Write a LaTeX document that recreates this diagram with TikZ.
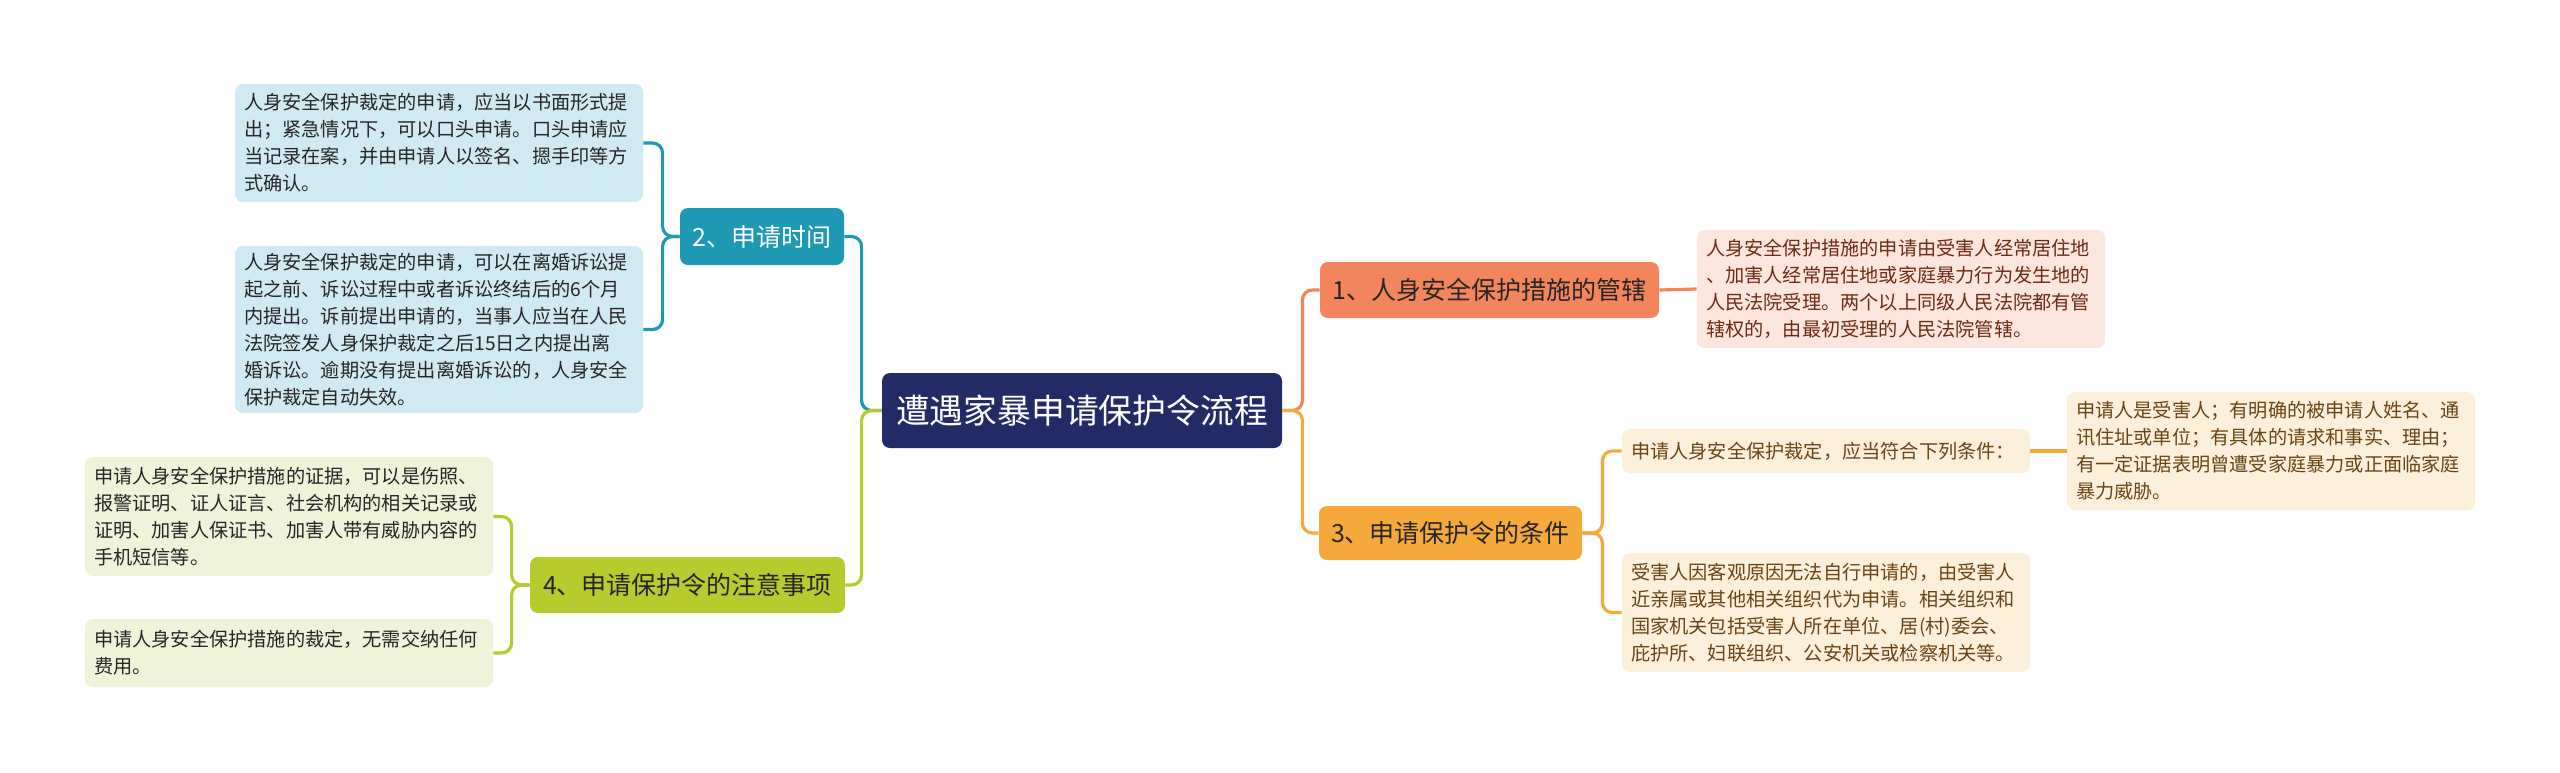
\documentclass[tikz,border=0pt]{standalone}
\usepackage{fontspec}
\setmainfont{Noto Sans CJK SC}
\definecolor{rootnavy}{HTML}{232B67}
\definecolor{branchteal}{HTML}{1E99B3}
\definecolor{branchgreen}{HTML}{B7CB2F}
\definecolor{branchsalmon}{HTML}{F2855C}
\definecolor{branchorange}{HTML}{F6A93B}
\definecolor{leafblue}{HTML}{CFEAF2}
\definecolor{leafgreen}{HTML}{EFF3D7}
\definecolor{leafpink}{HTML}{FDE6DE}
\definecolor{leafcream}{HTML}{FDF0DB}
\definecolor{textpink}{HTML}{6E2A12}
\definecolor{textcream}{HTML}{6A4412}

\begin{document}
\begin{tikzpicture}[x=0.5pt,y=-0.5pt,
    rootbox/.style={fill=rootnavy,text=white,rounded corners=4pt,inner sep=0pt,
      minimum width=200pt,minimum height=37.5pt,font=\fontsize{16.9pt}{20pt}\selectfont},
    mainbox/.style={rounded corners=4pt,inner sep=0pt,minimum height=28pt,
      font=\fontsize{12.5pt}{15pt}\selectfont},
    leafbox/.style={rounded corners=4pt,align=left,text width=195pt,inner xsep=4.5pt,
      inner ysep=0pt,font=\fontsize{9.6pt}{13.5pt}\selectfont},
    link/.style={line width=1.6pt,rounded corners=5pt}]
    \fill[white] (0,0) rectangle (2560,772);
    \useasboundingbox (0,0) rectangle (2560,772);
    % centre
    \node[rootbox] (root) at (1082,410.5) {遭遇家暴申请保护令流程};
    % left side
    \node[mainbox,fill=branchteal,text=white,minimum width=82pt,minimum height=28.5pt] (time) at (762,236.5) {2、申请时间};
    \node[mainbox,fill=branchgreen,text=black!85,minimum width=157.5pt] (note) at (687.5,585) {4、申请保护令的注意事项};
    \node[leafbox,fill=leafblue,text=black!85,minimum height=59pt] (timeA) at (439,143)
      {人身安全保护裁定的申请，应当以书面形式提\\出；紧急情况下，可以口头申请。口头申请应\\当记录在案，并由申请人以签名、摁手印等方\\式确认。};
    \node[leafbox,fill=leafblue,text=black!85,minimum height=83.5pt] (timeB) at (439,329.5)
      {人身安全保护裁定的申请，可以在离婚诉讼提\\起之前、诉讼过程中或者诉讼终结后的6个月\\内提出。诉前提出申请的，当事人应当在人民\\法院签发人身保护裁定之后15日之内提出离\\婚诉讼。逾期没有提出离婚诉讼的，人身安全\\保护裁定自动失效。};
    \node[leafbox,fill=leafgreen,text=black!85,minimum height=59.5pt] (noteA) at (289,516.5)
      {申请人身安全保护措施的证据，可以是伤照、\\报警证明、证人证言、社会机构的相关记录或\\证明、加害人保证书、加害人带有威胁内容的\\手机短信等。};
    \node[leafbox,fill=leafgreen,text=black!85,minimum height=34pt] (noteB) at (289,653)
      {申请人身安全保护措施的裁定，无需交纳任何\\费用。};
    % right side
    \node[mainbox,fill=branchsalmon,text=black!85,minimum width=169.5pt] (court) at (1489.5,290) {1、人身安全保护措施的管辖};
    \node[mainbox,fill=branchorange,text=black!85,minimum width=131.5pt,minimum height=27pt] (cond) at (1450.5,533) {3、申请保护令的条件};
    \node[leafbox,fill=leafpink,text=textpink,minimum height=59pt] (courtA) at (1901,289)
      {人身安全保护措施的申请由受害人经常居住地\\、加害人经常居住地或家庭暴力行为发生地的\\人民法院受理。两个以上同级人民法院都有管\\辖权的，由最初受理的人民法院管辖。};
    \node[leafbox,fill=leafcream,text=textcream,minimum height=22pt] (condA) at (1826,451)
      {申请人身安全保护裁定，应当符合下列条件：};
    \node[leafbox,fill=leafcream,text=textcream,minimum height=59pt] (condAA) at (2271,451)
      {申请人是受害人；有明确的被申请人姓名、通\\讯住址或单位；有具体的请求和事实、理由；\\有一定证据表明曾遭受家庭暴力或正面临家庭\\暴力威胁。};
    \node[leafbox,fill=leafcream,text=textcream,minimum height=59.5pt] (condB) at (1826,612.5)
      {受害人因客观原因无法自行申请的，由受害人\\近亲属或其他相关组织代为申请。相关组织和\\国家机关包括受害人所在单位、居(村)委会、\\庇护所、妇联组织、公安机关或检察机关等。};
    % connectors
    \draw[link,branchteal] (root.west) -- ++(-20,0) |- (time.east);
    \draw[link,branchgreen] (root.west) -- ++(-20,0) |- (note.east);
    \draw[link,branchteal] (time.west) -- ++(-17,0) |- (timeA.east);
    \draw[link,branchteal] (time.west) -- ++(-17,0) |- (timeB.east);
    \draw[link,branchgreen] (note.west) -- ++(-18,0) |- (noteA.east);
    \draw[link,branchgreen] (note.west) -- ++(-18,0) |- (noteB.east);
    \draw[link,branchsalmon] (root.east) -- ++(20,0) |- (court.west);
    \draw[link,branchorange] (root.east) -- ++(20,0) |- (cond.west);
    \draw[link,branchsalmon] (court.east) -- (courtA.west);
    \draw[link,branchorange] (cond.east) -- ++(20,0) |- (condA.west);
    \draw[link,branchorange] (cond.east) -- ++(20,0) |- (condB.west);
    \draw[link,branchorange] (condA.east) -- (condAA.west);
\end{tikzpicture}
\end{document}
